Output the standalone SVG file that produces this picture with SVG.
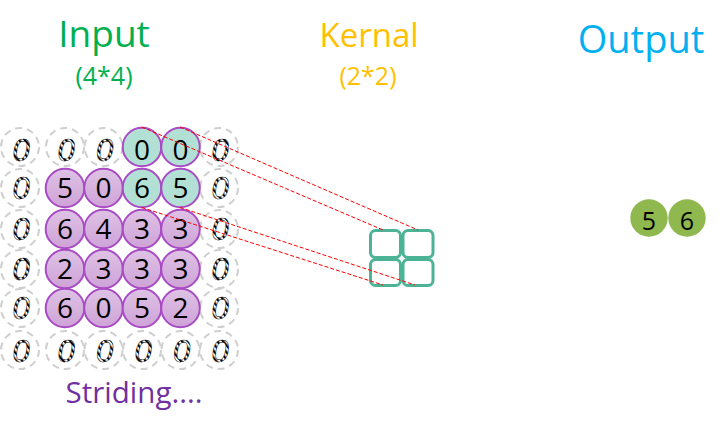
<svg xmlns="http://www.w3.org/2000/svg" width="728" height="428" viewBox="0 0 728 428">
<defs>
<linearGradient id="pg" x1="0" y1="0" x2="0" y2="1"><stop offset="0" stop-color="#dfc2e5"/><stop offset="1" stop-color="#cea3d7"/></linearGradient>
<pattern id="hatch" width="4.5" height="4.5" patternUnits="userSpaceOnUse" patternTransform="rotate(-40)"><rect width="4.5" height="4.5" fill="#fff"/><rect width="2.2" height="4.5" fill="#000"/></pattern>
<style>
.dz{fill:none;stroke:#cfcfcf;stroke-width:2;stroke-dasharray:7 5}
.zt{font-family:"Liberation Sans","DejaVu Sans",sans-serif;font-size:31px;font-style:italic;fill:url(#hatch);stroke:#000;stroke-width:0.5;text-anchor:middle}
.pc{fill:url(#pg);stroke:#a84bc4;stroke-width:2}
.tc{fill:#b2e0d4;stroke:#a84bc4;stroke-width:2}
.num{font-family:"Open Sans","DejaVu Sans",sans-serif;font-size:28px;fill:#000;text-anchor:middle}
.oc{fill:#8fb84f}
.on{font-family:"Open Sans","DejaVu Sans",sans-serif;font-size:25px;fill:#000;text-anchor:middle}
.ttl{font-family:"Open Sans","DejaVu Sans",sans-serif;text-anchor:middle}
.kc{fill:#fff;stroke:#4db396;stroke-width:3}
.rl{stroke:#ff0000;stroke-width:1;stroke-dasharray:4 2;fill:none}
</style>
</defs>
<rect width="728" height="428" fill="#fff"/>
<g id="titles">
<text class="ttl" x="104" y="47" font-size="37" fill="#00b050">Input</text>
<text class="ttl" x="104" y="85" font-size="25" fill="#00b050">(4*4)</text>
<text class="ttl" x="369" y="47" font-size="33" fill="#ffc000">Kernal</text>
<text class="ttl" x="368" y="85" font-size="25" fill="#ffc000">(2*2)</text>
<text class="ttl" x="641" y="53" font-size="38" fill="#00b0f0">Output</text>
<text class="ttl" x="134" y="403" font-size="29.5" fill="#7030a0">Striding....</text>
</g>
<g id="padding">
<circle class="dz" cx="20" cy="147" r="19"/><text class="zt" x="21" y="161">0</text>
<circle class="dz" cx="65" cy="147" r="19"/><text class="zt" x="66" y="161">0</text>
<circle class="dz" cx="103.5" cy="147" r="19"/><text class="zt" x="104.5" y="161">0</text>
<circle class="dz" cx="219" cy="147" r="19"/><text class="zt" x="220" y="161">0</text>
<circle class="dz" cx="20" cy="188" r="19"/><text class="zt" x="21" y="199">0</text>
<circle class="dz" cx="219" cy="188" r="19"/><text class="zt" x="220" y="199">0</text>
<circle class="dz" cx="20" cy="229" r="19"/><text class="zt" x="21" y="240">0</text>
<circle class="dz" cx="219" cy="229" r="19"/><text class="zt" x="220" y="240">0</text>
<circle class="dz" cx="20" cy="269" r="19"/><text class="zt" x="21" y="280">0</text>
<circle class="dz" cx="219" cy="269" r="19"/><text class="zt" x="220" y="280">0</text>
<circle class="dz" cx="20" cy="308" r="19"/><text class="zt" x="21" y="319">0</text>
<circle class="dz" cx="219" cy="308" r="19"/><text class="zt" x="220" y="319">0</text>
<circle class="dz" cx="20" cy="350" r="19"/><text class="zt" x="21" y="362">0</text>
<circle class="dz" cx="65" cy="350" r="19"/><text class="zt" x="66" y="362">0</text>
<circle class="dz" cx="103.5" cy="350" r="19"/><text class="zt" x="104.5" y="362">0</text>
<circle class="dz" cx="142" cy="350" r="19"/><text class="zt" x="143" y="362">0</text>
<circle class="dz" cx="180.5" cy="350" r="19"/><text class="zt" x="181.5" y="362">0</text>
<circle class="dz" cx="219" cy="350" r="19"/><text class="zt" x="220" y="362">0</text>
</g>
<g id="input">
<g id="i01"><circle class="tc" cx="142" cy="147" r="19.3"/><text class="num" x="142" y="160">0</text></g>
<g id="i02"><circle class="tc" cx="180.5" cy="147" r="19.3"/><text class="num" x="180.5" y="160">0</text></g>
<g id="i10"><circle class="pc" cx="65" cy="188" r="19.3"/><text class="num" x="65" y="198">5</text></g>
<g id="i11"><circle class="pc" cx="103.5" cy="188" r="19.3"/><text class="num" x="103.5" y="198">0</text></g>
<g id="i12"><circle class="tc" cx="142" cy="188" r="19.3"/><text class="num" x="142" y="198">6</text></g>
<g id="i13"><circle class="tc" cx="180.5" cy="188" r="19.3"/><text class="num" x="180.5" y="198">5</text></g>
<g id="i20"><circle class="pc" cx="65" cy="229" r="19.3"/><text class="num" x="65" y="239">6</text></g>
<g id="i21"><circle class="pc" cx="103.5" cy="229" r="19.3"/><text class="num" x="103.5" y="239">4</text></g>
<g id="i22"><circle class="pc" cx="142" cy="229" r="19.3"/><text class="num" x="142" y="239">3</text></g>
<g id="i23"><circle class="pc" cx="180.5" cy="229" r="19.3"/><text class="num" x="180.5" y="239">3</text></g>
<g id="i30"><circle class="pc" cx="65" cy="269" r="19.3"/><text class="num" x="65" y="279">2</text></g>
<g id="i31"><circle class="pc" cx="103.5" cy="269" r="19.3"/><text class="num" x="103.5" y="279">3</text></g>
<g id="i32"><circle class="pc" cx="142" cy="269" r="19.3"/><text class="num" x="142" y="279">3</text></g>
<g id="i33"><circle class="pc" cx="180.5" cy="269" r="19.3"/><text class="num" x="180.5" y="279">3</text></g>
<g id="i40"><circle class="pc" cx="65" cy="308" r="19.3"/><text class="num" x="65" y="318">6</text></g>
<g id="i41"><circle class="pc" cx="103.5" cy="308" r="19.3"/><text class="num" x="103.5" y="318">0</text></g>
<g id="i42"><circle class="pc" cx="142" cy="308" r="19.3"/><text class="num" x="142" y="318">5</text></g>
<g id="i43"><circle class="pc" cx="180.5" cy="308" r="19.3"/><text class="num" x="180.5" y="318">2</text></g>
</g>
<g id="kernel">
<rect class="kc" x="370.5" y="230.5" width="30" height="27" rx="5"/>
<rect class="kc" x="403" y="230.5" width="30" height="27" rx="5"/>
<rect class="kc" x="370.5" y="259.5" width="30" height="26" rx="5"/>
<rect class="kc" x="403" y="259.5" width="30" height="26" rx="5"/>
</g>
<g id="output">
<g id="o1"><circle class="oc" cx="649" cy="218" r="18.7"/><text class="on" x="649" y="230">5</text></g>
<g id="o2"><circle class="oc" cx="687" cy="218" r="18.7"/><text class="on" x="687" y="230">6</text></g>
</g>
<g id="connectors">
<line class="rl" x1="141.7" y1="127" x2="383" y2="230"/>
<line class="rl" x1="180" y1="127" x2="418" y2="230"/>
<line class="rl" x1="141.7" y1="207.5" x2="383" y2="285"/>
<line class="rl" x1="180" y1="207.5" x2="415" y2="285"/>
</g>
</svg>
